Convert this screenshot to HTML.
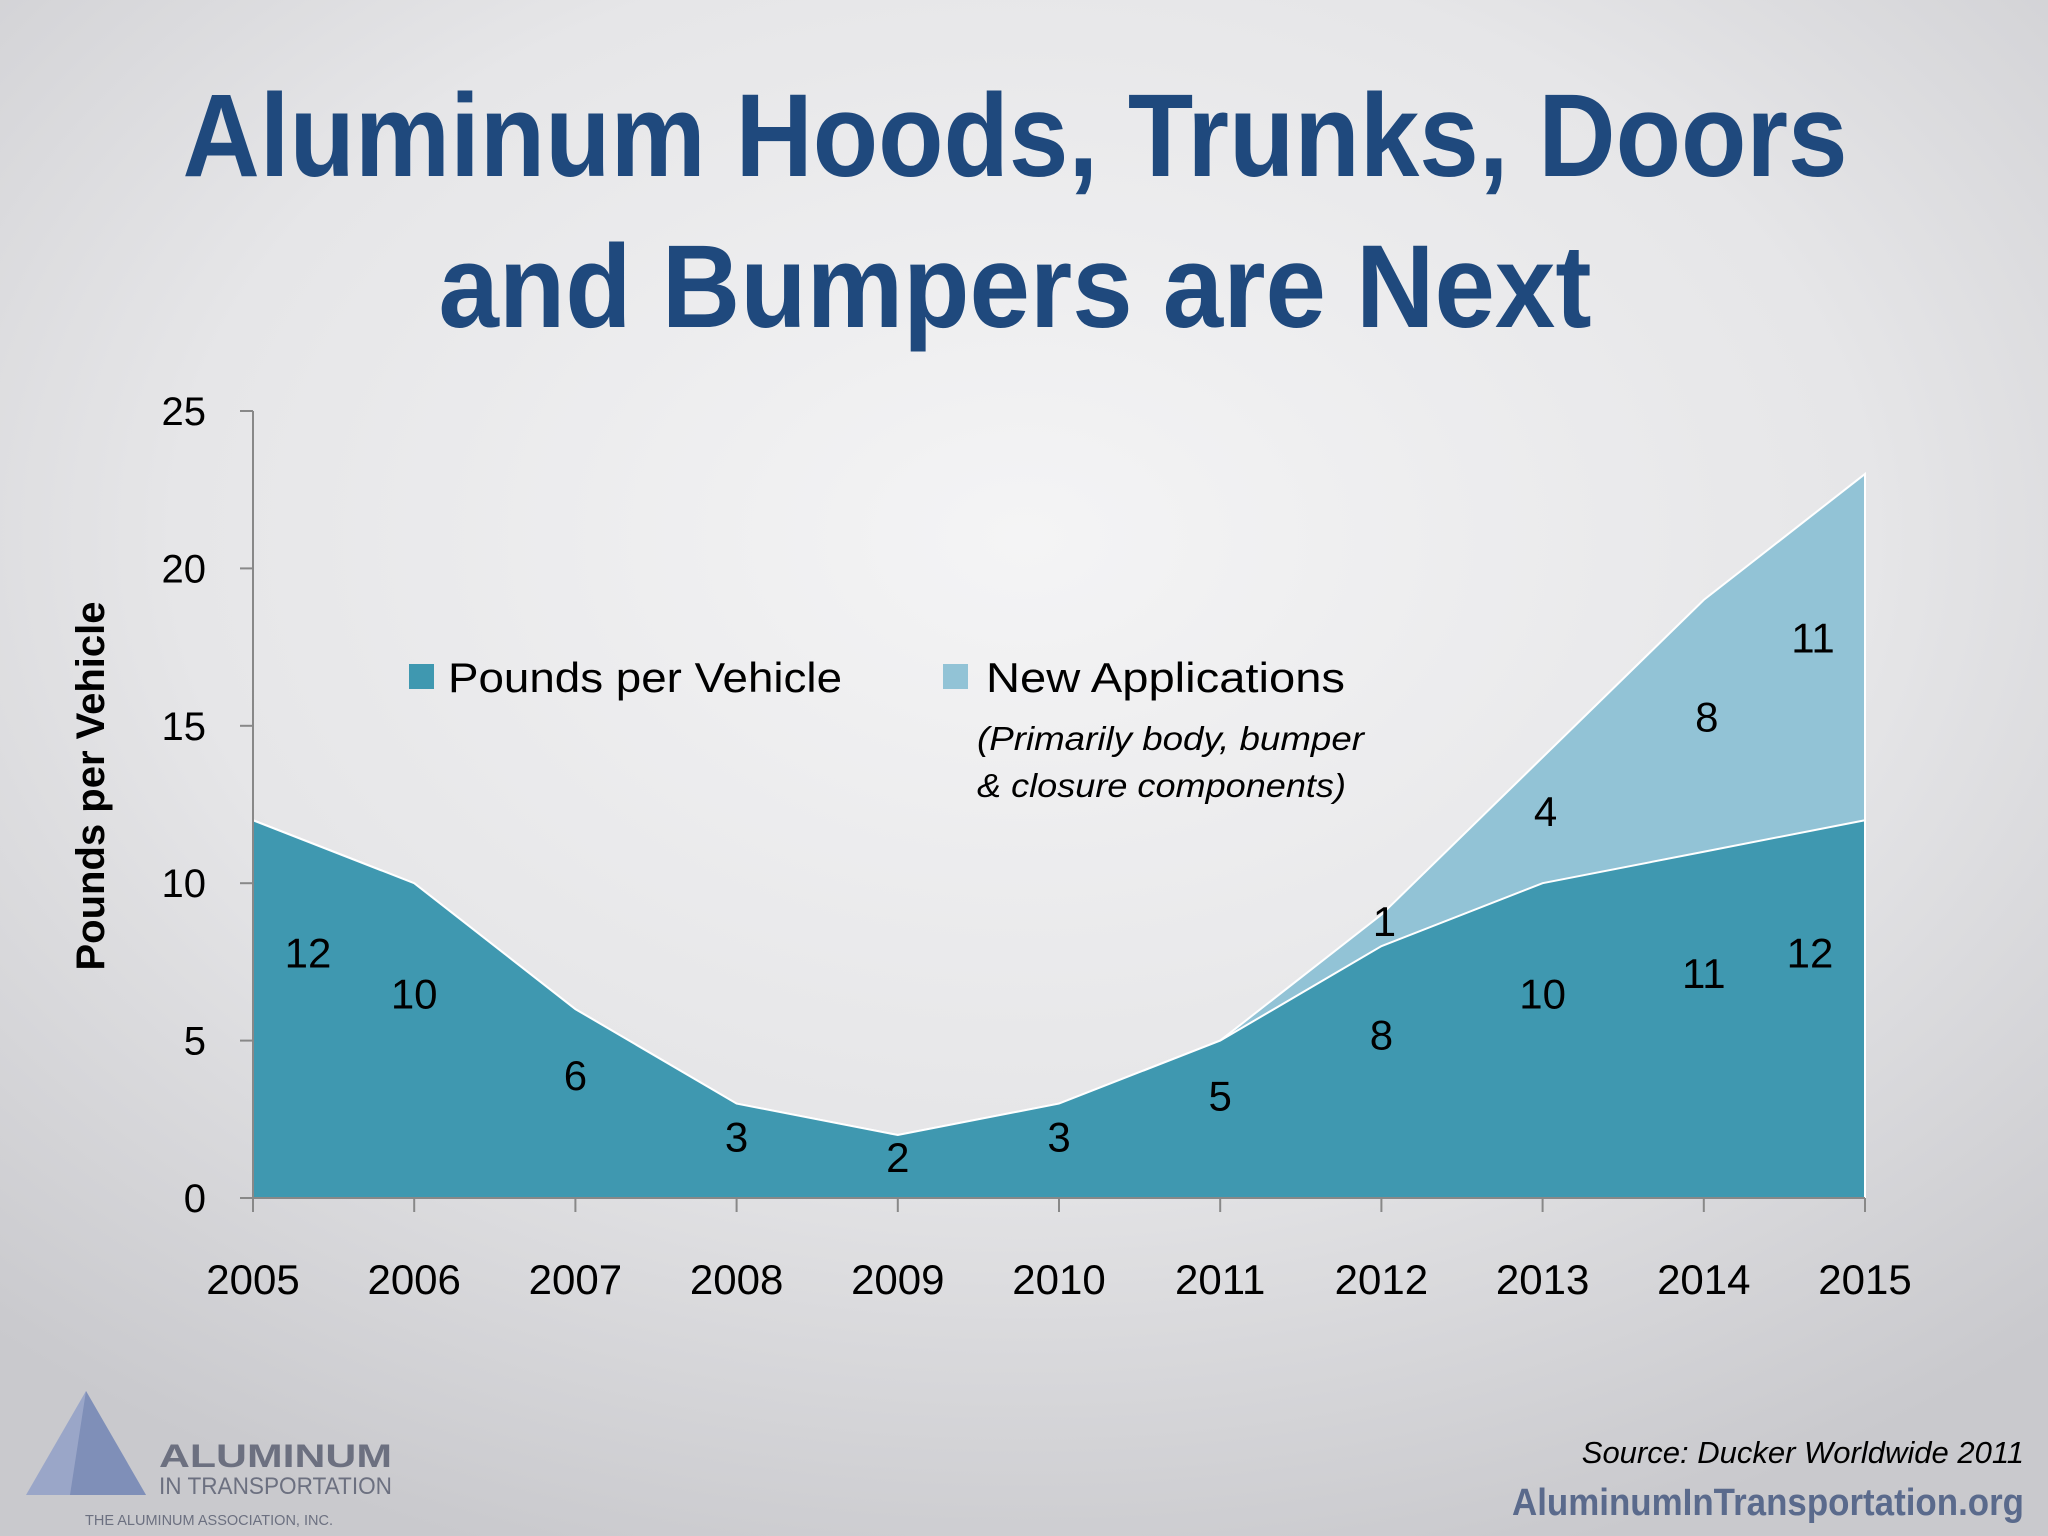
<!DOCTYPE html>
<html><head><meta charset="utf-8"><style>
html,body{margin:0;padding:0;width:2048px;height:1536px;overflow:hidden}
body{background:radial-gradient(ellipse 75% 70% at 50% 35%,#f4f4f5 0%,#e6e6e8 55%,#c9c9cd 100%);font-family:"Liberation Sans",sans-serif}
svg{position:absolute;left:0;top:0}
</style></head><body>
<svg id="chart" width="2048" height="1536">
<text x="1015" y="176" text-anchor="middle" font-size="118" font-weight="bold" fill="#1f497d" textLength="1665" lengthAdjust="spacingAndGlyphs">Aluminum Hoods, Trunks, Doors</text>
<text x="1015" y="327" text-anchor="middle" font-size="118" font-weight="bold" fill="#1f497d" textLength="1153" lengthAdjust="spacingAndGlyphs">and Bumpers are Next</text>
<g id="plot"></g>
<text transform="translate(104,786) rotate(-90)" text-anchor="middle" font-size="40" font-weight="bold" fill="#000">Pounds per Vehicle</text>
<rect x="409" y="664" width="25" height="25" fill="#3f98b0"/>
<text x="448" y="692" font-size="42" fill="#000" textLength="394" lengthAdjust="spacingAndGlyphs">Pounds per Vehicle</text>
<rect x="943" y="664" width="25" height="25" fill="#92c3d6"/>
<text x="986" y="692" font-size="42" fill="#000" textLength="359" lengthAdjust="spacingAndGlyphs">New Applications</text>
<text x="977" y="750" font-size="33" font-style="italic" fill="#000" textLength="387" lengthAdjust="spacingAndGlyphs">(Primarily body, bumper</text>
<text x="977" y="797" font-size="33" font-style="italic" fill="#000" textLength="369" lengthAdjust="spacingAndGlyphs">&amp; closure components)</text>
<g>
<polygon points="86,1391 26,1495 146,1495" fill="#9aa6c8"/>
<polygon points="86,1391 70,1495 146,1495" fill="#7f8fb8"/>
<text x="159" y="1467" font-size="32" font-weight="bold" fill="#6c7080" textLength="233" lengthAdjust="spacingAndGlyphs">ALUMINUM</text>
<text x="159" y="1494" font-size="24" fill="#6c7080" textLength="233" lengthAdjust="spacingAndGlyphs">IN TRANSPORTATION</text>
<text x="85" y="1525" font-size="15" fill="#6c7080" textLength="248" lengthAdjust="spacingAndGlyphs">THE ALUMINUM ASSOCIATION, INC.</text>
</g>
<text x="2024" y="1463" text-anchor="end" font-size="31" font-style="italic" fill="#000">Source:  Ducker Worldwide 2011</text>
<text x="2024" y="1515" text-anchor="end" font-size="38" font-weight="bold" fill="#5a6a8c" textLength="512" lengthAdjust="spacingAndGlyphs">AluminumInTransportation.org</text>
</svg>
<script>
const years = ['2005','2006','2007','2008','2009','2010','2011','2012','2013','2014','2015'];
const poundsPerVehicle = [12,10,6,3,2,3,5,8,10,11,12];
const newApplications = [0,0,0,0,0,0,0,1,4,8,11];
const yTicks = [0,5,10,15,20,25];
const NS='http://www.w3.org/2000/svg';
const X0=253,X1=1865,Y0=1198,Y1=411,YMAX=25;
const xs=i=>X0+(X1-X0)*i/(years.length-1);
const ys=v=>Y0-(Y0-Y1)*v/YMAX;
const g=document.getElementById('plot');
function mk(t,a){const e=document.createElementNS(NS,t);for(const k in a)e.setAttribute(k,a[k]);g.appendChild(e);return e;}
const topPts=years.map((y,i)=>xs(i)+','+ys(poundsPerVehicle[i]+newApplications[i])).join(' ');
const a2=mk('polygon',{points:X0+','+Y0+' '+topPts+' '+X1+','+Y0,fill:'#92c3d6',stroke:'#fff','stroke-width':2});


const basePts=years.map((y,i)=>xs(i)+','+ys(poundsPerVehicle[i])).join(' ');
const a1=mk('polygon',{points:X0+','+Y0+' '+basePts+' '+X1+','+Y0,fill:'#3f98b0',stroke:'#fff','stroke-width':2});


const ya=mk('line',{x1:X0,y1:Y1,x2:X0,y2:Y0,stroke:'#888','stroke-width':2});


const xa=mk('line',{x1:X0,y1:Y0,x2:X1,y2:Y0,stroke:'#888','stroke-width':2});


yTicks.forEach(v=>{
 mk('line',{x1:X0-13,y1:ys(v),x2:X0,y2:ys(v),stroke:'#888','stroke-width':2});
 const t=mk('text',{x:206,y:ys(v)+14,'text-anchor':'end','font-size':40,fill:'#000'});t.textContent=v;
 
 
});
years.forEach((y,i)=>{
 mk('line',{x1:xs(i),y1:Y0,x2:xs(i),y2:Y0+14,stroke:'#888','stroke-width':2});
 const t=mk('text',{x:xs(i),y:1294,'text-anchor':'middle','font-size':42,fill:'#000'});t.textContent=y;
 
 
 const lx=Math.min(Math.max(xs(i),X0+55),X1-55);
 const v=poundsPerVehicle[i];
 const bl=mk('text',{x:lx,y:ys(v*0.65)+15,'text-anchor':'middle','font-size':42,fill:'#000'});bl.textContent=v;
 
 
 if(newApplications[i]>0){
  const n=newApplications[i];
  const nl=mk('text',{x:lx+3,y:ys(v+n/2+0.3)+15,'text-anchor':'middle','font-size':42,fill:'#000'});nl.textContent=n;
  
  
 }
});
</script>
</body></html>
